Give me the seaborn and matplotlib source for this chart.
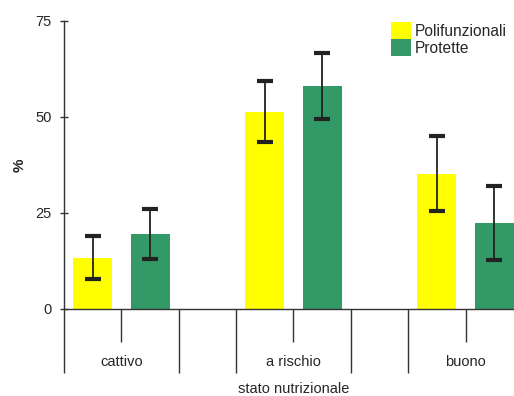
import pandas as pd
import matplotlib
matplotlib.use("Agg")
import matplotlib.pyplot as plt
import seaborn as sns
import numpy as np

# values
categories = ["cattivo", "a rischio", "buono"]
series = ["Polifunzionali", "Protette"]
polifunzionali = [13.4, 51.4, 35.2]
protette = [19.5, 58.1, 22.4]
err_polifunzionali = [5.5, 8.0, 9.8]
err_protette = [6.5, 8.6, 9.6]
yticks = [0, 25, 50, 75]

colors = ["#ffff00", "#339966"]

df = pd.DataFrame({
    "stato": categories * 2,
    "gruppo": [series[0]] * 3 + [series[1]] * 3,
    "valore": polifunzionali + protette,
    "err": err_polifunzionali + err_protette,
})

sns.set_style("white")
plt.rcParams["font.family"] = ["Liberation Sans", "DejaVu Sans"]

fig = plt.figure(figsize=(5.14, 3.96), dpi=100)
ax = fig.add_axes([64 / 514, 87 / 396, 459 / 514, 288 / 396])

sns.barplot(data=df, x="stato", y="valore", hue="gruppo", order=categories,
            hue_order=series, palette=colors, width=2 / 3, gap=0.32,
            errorbar=None, saturation=1, linewidth=0, legend=False, ax=ax)

# error bars on top of each bar, placed from the bar patches
bars = [p for p in ax.patches if p.get_height() > 0]
for p in bars:
    cx = p.get_x() + p.get_width() / 2
    h = p.get_height()
    row = df[np.isclose(df["valore"], h)].iloc[0]
    ax.errorbar(cx, h, yerr=row["err"], fmt="none", ecolor="#222222",
                elinewidth=1.3, capsize=6, capthick=3)

ax.set_xlim(-1 / 3, 2 + 1 / 3)
ax.set_ylim(0, 75)
ax.set_yticks(yticks)
ax.set_xticks([0, 1, 2])
ax.set_xticks([-1 / 3, 1 / 3, 2 / 3, 4 / 3, 5 / 3, 7 / 3], minor=True)

for s in ["top", "right"]:
    ax.spines[s].set_visible(False)
for s in ["left", "bottom"]:
    ax.spines[s].set_color("#333333")
    ax.spines[s].set_linewidth(1.0)

ax.tick_params(axis="y", left=True, direction="inout", length=6, width=1,
               color="#333333", labelsize=10.5, pad=6)
ax.tick_params(axis="x", which="major", bottom=True, direction="out", length=24,
               width=1, color="#333333", labelsize=10.5, pad=9)
ax.tick_params(axis="x", which="minor", bottom=True, direction="out", length=46,
               width=1, color="#333333")

ax.set_xlabel("stato nutrizionale", fontsize=10.5, labelpad=3.5)
ax.set_ylabel("%", fontsize=11, fontweight="bold", labelpad=6)

handles = [plt.Rectangle((0, 0), 1, 1, facecolor=c, edgecolor="none") for c in colors]
fig.legend(handles, series, loc="upper left", bbox_to_anchor=(391 / 514, 1 - 22 / 396),
           frameon=False, fontsize=11.2, handlelength=1.3, handleheight=1.3,
           labelspacing=0.0, handletextpad=0.2, borderpad=0, borderaxespad=0)

fig.savefig("out.png", dpi=100)
